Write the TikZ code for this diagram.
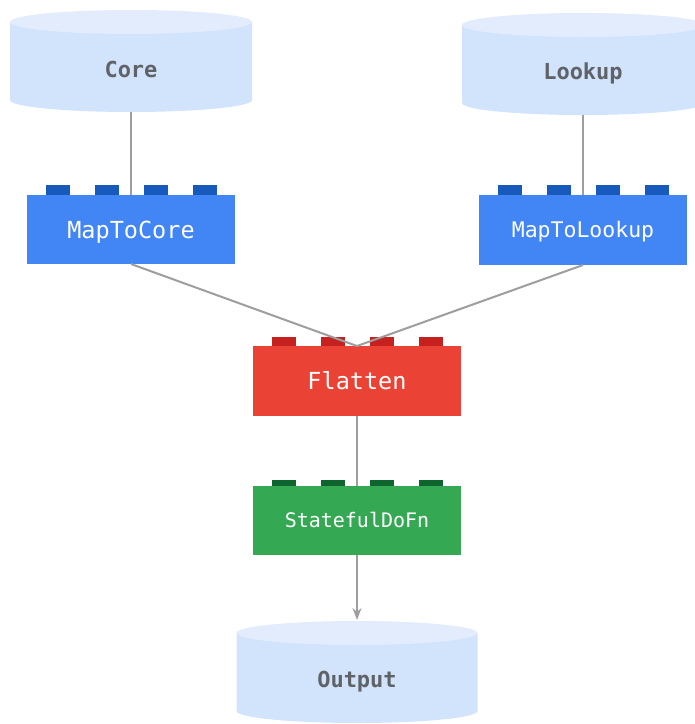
\documentclass[tikz,border=0pt]{standalone}
\usepackage{fontspec}
\setmonofont{DejaVu Sans Mono}
\usetikzlibrary{arrows.meta,calc}
\definecolor{cylbody}{HTML}{D2E3FC}
\definecolor{cyltop}{HTML}{E2ECFD}
\definecolor{cyltext}{HTML}{5F6368}
\definecolor{bluebox}{HTML}{4285F4}
\definecolor{bluestud}{HTML}{185ABC}
\definecolor{redbox}{HTML}{EA4335}
\definecolor{redstud}{HTML}{C5221F}
\definecolor{greenbox}{HTML}{34A853}
\definecolor{greenstud}{HTML}{0D652D}
\definecolor{wire}{HTML}{9E9E9E}
% name, cx, top y, bottom-ellipse centre y, half width
\newcommand\mydb[5]{%
  \fill[cylbody] (#2-#5,#3+12) -- (#2-#5,#4) arc[start angle=180,end angle=360,x radius=#5pt,y radius=12pt] -- (#2+#5,#3+12) -- cycle;
  \fill[cyltop] (#2,#3+12) ellipse[x radius=#5pt, y radius=12pt];
  \node[area, minimum width={2*#5*1pt}, minimum height={(#4+12-#3)*1pt}] (#1) at (#2,{(#3+#4+12)/2}) {};
}
\newcommand\mystuds[3]{%
  \foreach \o in {19,68,117,166} \fill[#2] ($(#1.north west)+(\o,0)$) rectangle ++(24,-#3);
}
\tikzset{
  area/.style={inner sep=0pt, outer sep=0pt},
  blk/.style={inner sep=0pt, outer sep=0pt, minimum width=208pt, text=white, text depth=0pt},
  dblabel/.style={inner sep=0pt, text=cyltext, text depth=0pt, text height=16pt, font=\ttfamily\bfseries\fontsize{22}{26}\selectfont},
  wire/.style={draw=wire, line width=2pt},
}
\begin{document}
\begin{tikzpicture}[x=1pt,y=-1pt]
\useasboundingbox (0,0) rectangle (695,724);
\clip (0,0) rectangle (695,724);
\fill[white] (0,0) rectangle (695,724);
% databases
\mydb{core}{131}{10}{100}{121}
\mydb{lookup}{583}{13}{103}{121}
\mydb{output}{357}{621}{711}{120.5}
\node[dblabel] (coreT) at (131,69.5) {Core};
\node[dblabel] (lookupT) at (583,71.3) {Lookup};
\node[dblabel] (outputT) at (357,679) {Output};
% transforms
\node[blk, fill=bluebox, minimum height=69pt, text height=17.1pt, font=\ttfamily\fontsize{23.5}{28}\selectfont] (mapcore) at (131,229.5) {MapToCore};
\node[blk, fill=bluebox, minimum height=70pt, text height=15.7pt, font=\ttfamily\fontsize{21.5}{26}\selectfont] (maplook) at (583,230) {MapToLookup};
\node[blk, fill=redbox, minimum height=70pt, text height=17.1pt, font=\ttfamily\fontsize{23.5}{28}\selectfont] (flatten) at (357,381) {Flatten};
\node[blk, fill=greenbox, minimum height=69pt, text height=14.6pt, font=\ttfamily\fontsize{20}{24}\selectfont] (stateful) at (357,520.5) {StatefulDoFn};
\mystuds{mapcore}{bluestud}{10}
\mystuds{maplook}{bluestud}{10}
\mystuds{flatten}{redstud}{9}
\mystuds{stateful}{greenstud}{6}
% connectors
\draw[wire] (core.south) -- (mapcore.north);
\draw[wire] (lookup.south) -- (maplook.north);
\draw[wire] (mapcore.south) -- (flatten.north);
\draw[wire] (maplook.south) -- (flatten.north);
\draw[wire] (flatten.south) -- (stateful.north);
\draw[wire, -{Stealth[length=12pt, width=9pt, inset=4pt]}] (stateful.south) -- ([yshift=1pt]output.north);
\end{tikzpicture}
\end{document}
